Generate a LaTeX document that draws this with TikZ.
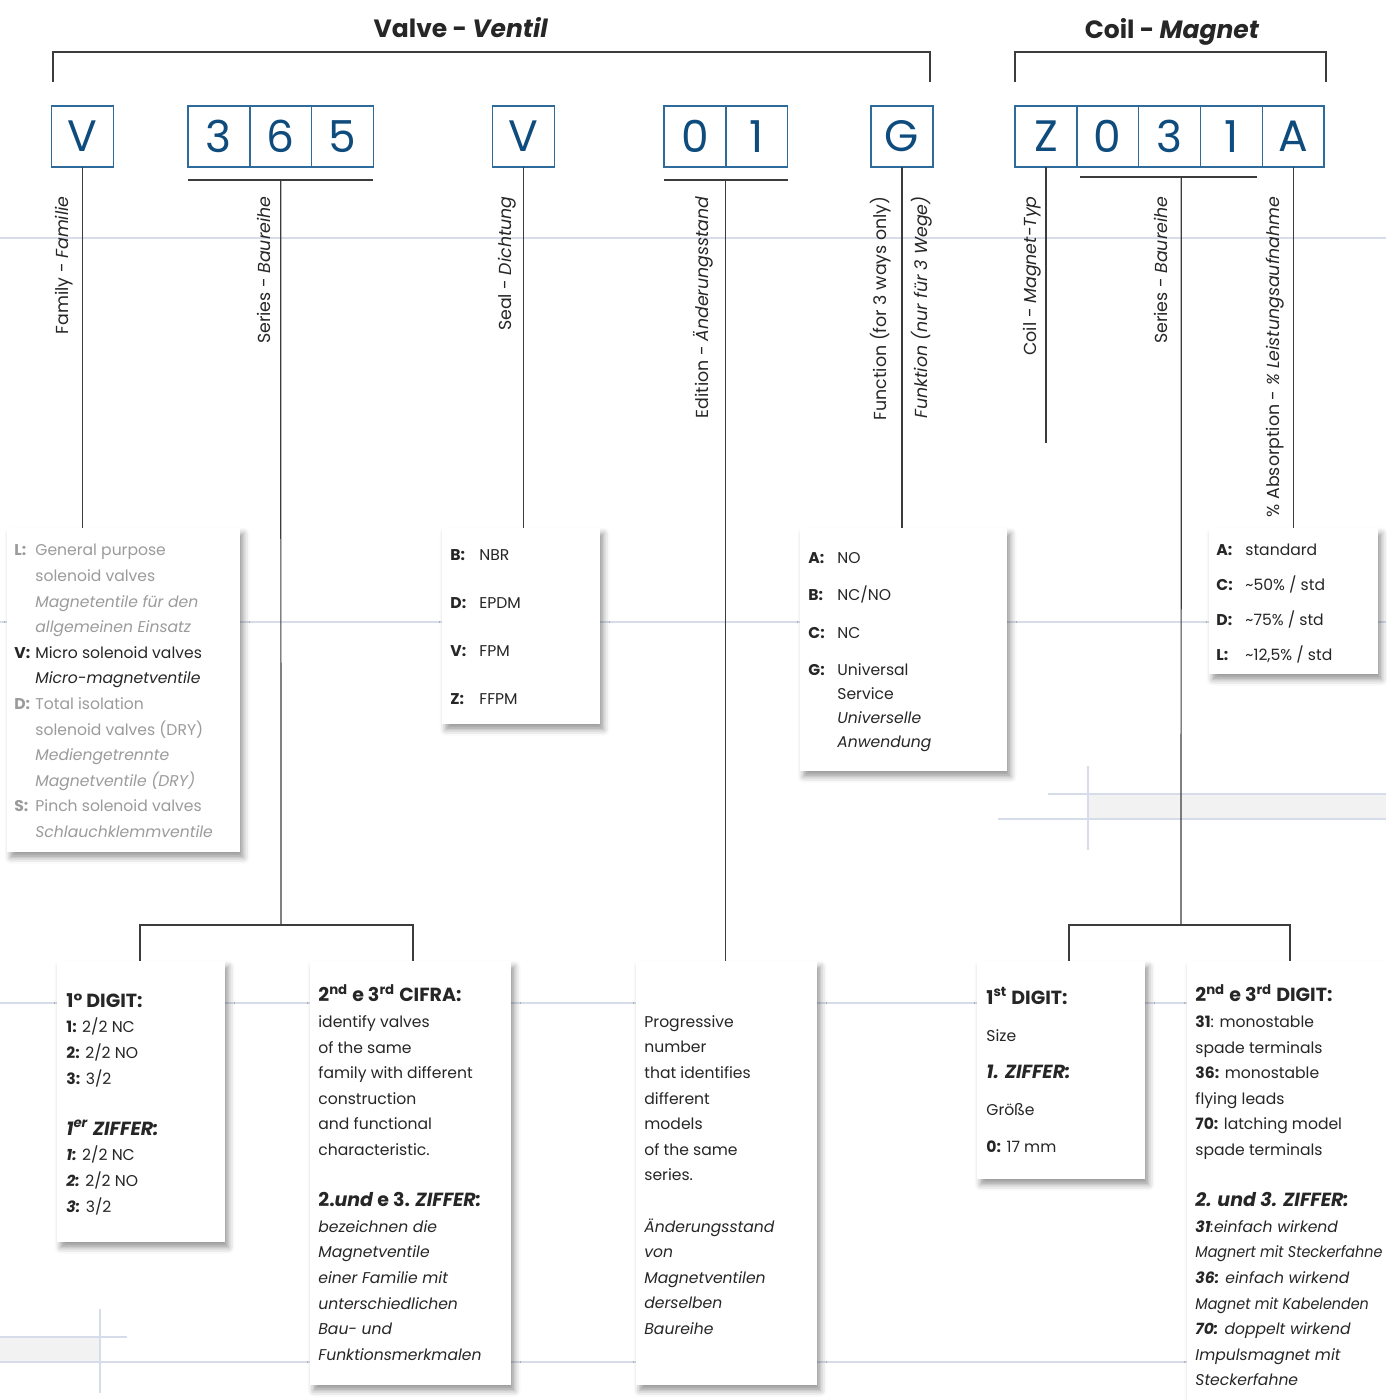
\documentclass[tikz,border=0pt]{standalone}
\usepackage{fontspec}
\setmainfont{Poppins}
\usetikzlibrary{positioning,fit,backgrounds,shadows.blur}

\definecolor{codeblue}{HTML}{0F4C7E}
\definecolor{cellline}{HTML}{2E6A9A}
\definecolor{ink}{HTML}{262626}
\definecolor{famgray}{HTML}{9B9B9B}
\definecolor{guide}{HTML}{D6DCEA}
\definecolor{strip}{HTML}{F2F2F2}

% bold key letter in a fixed-width box, and the matching indent
\newcommand{\lbl}[2][10.5pt]{\makebox[#1][l]{\textbf{#2}}}
\newcommand{\ind}[1][10.5pt]{\hspace*{#1}}
\newcommand{\hd}[1]{{\fontsize{9.5}{12.8}\selectfont\bfseries #1}}
\newcommand{\cond}[1]{\scalebox{0.92}[1]{#1}}

\tikzset{
  cell/.style={draw=cellline, line width=0.7pt, fill=white, outer sep=0pt,
    minimum width=30.9pt, minimum height=30.5pt, inner sep=0pt,
    text=codeblue, font=\fontsize{22}{22}\selectfont},
  shade box/.style={fill=white, inner sep=0pt,
    blur shadow={shadow xshift=1.8pt, shadow yshift=-2.8pt,
      shadow blur radius=3pt, shadow opacity=40}},
  panel/.style={shade box},
  conn/.style={draw=ink!90, line width=0.6pt},
  guideline/.style={draw=guide, line width=0.7pt},
  tag/.style={rotate=90, anchor=east, inner sep=0pt, text=ink,
    font=\fontsize{8.7}{8.7}\selectfont},
  body/.style={anchor=north west, inner sep=0pt, align=left, text=ink,
    font=\fontsize{7.8}{12.8}\selectfont},
  title/.style={text=ink, font=\fontsize{12.5}{12.5}\selectfont\bfseries}
}

\begin{document}
\begin{tikzpicture}[x=0.5pt,y=-0.5pt]
\useasboundingbox (0,0) rectangle (1386,1400);

% background guides
\fill[strip] (1088,794) rectangle (1386,819);
\fill[strip] (0,1337) rectangle (100,1362);
\foreach \yy in {238,622,1003,1362}
  \draw[guideline] (0,\yy) -- (1386,\yy);
\draw[guideline] (1048,794) -- (1386,794);
\draw[guideline] (998,819) -- (1386,819);
\draw[guideline] (1088,766) -- (1088,850);
\draw[guideline] (0,1337) -- (127,1337);
\draw[guideline] (100,1309) -- (100,1393);

% titles and brackets
\node[title] (tValve) at (461,28) {Valve - \textit{Ventil}};
\node[title] (tCoil) at (1172,32) {Coil - \textit{Magnet}};
\draw[conn] (53,82) |- (930,52) -- (930,82);
\draw[conn] (1015,82) |- (1326,52) -- (1326,82);

% code cells
\node[cell] (cV) at (82.5,136.5) {V};
\node[cell] (c3) at (218.9,136.5) {3};
\node[cell, right=0pt of c3] (c6) {6};
\node[cell, right=0pt of c6] (c5) {5};
\node[cell] (cS) at (523.5,136.5) {V};
\node[cell] (c0) at (694.9,136.5) {0};
\node[cell, right=0pt of c0] (c1) {1};
\node[cell] (cG) at (902,136.5) {G};
\node[cell] (cZ) at (1045.9,136.5) {Z};
\node[cell, right=0pt of cZ] (cZ0) {0};
\node[cell, right=0pt of cZ0] (cZ3) {3};
\node[cell, right=0pt of cZ3] (cZ1) {1};
\node[cell, right=0pt of cZ1] (cA) {A};

\begin{scope}[on background layer]
  \node[shade box, fit=(cV)] (gV) {};
  \node[shade box, fit=(c3)(c5)] (g365) {};
  \node[shade box, fit=(cS)] (gS) {};
  \node[shade box, fit=(c0)(c1)] (g01) {};
  \node[shade box, fit=(cG)] (gG) {};
  \node[shade box, fit=(cZ)(cA)] (gZ) {};
\end{scope}

% rotated captions
\node[tag] (lFam) at (64,196) {Family - \textit{Familie}};
\node[tag] (lSer) at (264,196) {Series - \textit{Baureihe}};
\node[tag] (lSeal) at (507,196) {Seal - \textit{Dichtung}};
\node[tag] (lEd) at (703,196) {Edition - \textit{Änderungsstand}};
\node[tag] (lFn) at (881,196) {Function (for 3 ways only)};
\node[tag] (lFk) at (922,196) {\textit{Funktion (nur für 3 Wege)}};
\node[tag] (lCoil) at (1032,196) {Coil - \textit{Magnet-Typ}};
\node[tag] (lCser) at (1161,196) {Series - \textit{Baureihe}};
\node[tag] (lAbs) at (1275,196) {\% Absorption - \textit{\% Leistungsaufnahme}};

% panels
\node[panel, fit={(7,528) (240,852)}] (bFam) {};
\node[panel, fit={(442,528) (600,724)}] (bSeal) {};
\node[panel, fit={(800,528) (1007,771)}] (bFunc) {};
\node[panel, fit={(1209,528) (1378,674)}] (bAbs) {};
\node[panel, fit={(57,961) (225,1242)}] (bDig) {};
\node[panel, fit={(310,961) (511,1385)}] (bCifra) {};
\node[panel, fit={(636,961) (817,1385)}] (bEd) {};
\node[panel, fit={(977,961) (1145,1179)}] (bSize) {};
\node[panel, fit={(1187,961) (1420,1420)}] (bCoil) {};

% connectors
\coordinate (sJoin) at (281,925);
\coordinate (sL) at (140,961);
\coordinate (sR) at (413,961);
\coordinate (cJoin) at (1181,925);
\coordinate (cL) at (1069,961);
\coordinate (cR) at (1290,961);
\draw[conn] (cV.south) -- (cV.south |- bFam.north);
\draw[conn] (cS.south) -- (cS.south |- bSeal.north);
\draw[conn] (cG.south) -- (cG.south |- bFunc.north);
\draw[conn] (cA.south) -- (cA.south |- bAbs.north);
\draw[conn] (cZ.south) -- (cZ.south |- 0,443);
\draw[conn] ([yshift=-6.5pt]c3.south west) -- ([yshift=-6.5pt]c5.south east);
\draw[conn] ([yshift=-6.5pt]c6.south) -- (sJoin);
\draw[conn] (sL) |- (sJoin) -| (sR);
\draw[conn] ([yshift=-6.5pt]c0.south west) -- ([yshift=-6.5pt]c1.south east);
\draw[conn] ([yshift=-6.5pt]c0.south east) -- (c0.south east |- bEd.north);
\draw[conn] ([xshift=1.5pt,yshift=-5pt]cZ0.south west) -- ([xshift=-2.4pt,yshift=-5pt]cZ1.south east);
\draw[conn] ([xshift=5.9pt,yshift=-5pt]cZ3.south) -- (cJoin);
\draw[conn] (cL) |- (cJoin) -| (cR);

% panel texts
\node[body, text=famgray] (tFam) at (14,544) {\lbl{L:}General purpose\\
  \ind solenoid valves\\ \ind\textit{Magnetentile für den}\\
  \ind\textit{allgemeinen Einsatz}\\
  \textcolor{ink}{\lbl{V:}Micro solenoid valves}\\
  \textcolor{ink}{\ind\textit{Micro-magnetventile}}\\
  \lbl{D:}Total isolation\\ \ind solenoid valves (DRY)\\
  \ind\textit{Mediengetrennte}\\ \ind\textit{Magnetventile (DRY)}\\
  \lbl{S:}Pinch solenoid valves\\ \ind\textit{Schlauchklemmventile}};

\node[body, font=\fontsize{7.8}{24}\selectfont] (tSeal) at (450,549)
  {\lbl[14.5pt]{B:}NBR\\ \lbl[14.5pt]{D:}EPDM\\ \lbl[14.5pt]{V:}FPM\\ \lbl[14.5pt]{Z:}FFPM};

\node[body, font=\fontsize{7.8}{12}\selectfont] (tFunc) at (808,552)
  {\lbl[14.5pt]{A:}NO\\[6.75pt] \lbl[14.5pt]{B:}NC/NO\\[6.75pt]
   \lbl[14.5pt]{C:}NC\\[6.75pt] \lbl[14.5pt]{G:}Universal\\
   \ind[14.5pt]Service\\ \ind[14.5pt]\textit{Universelle}\\ \ind[14.5pt]\textit{Anwendung}};

\node[body, font=\fontsize{7.8}{17.35}\selectfont] (tAbs) at (1216,544)
  {\lbl[14.5pt]{A:}standard\\ \lbl[14.5pt]{C:}\textasciitilde 50\% / std\\
   \lbl[14.5pt]{D:}\textasciitilde 75\% / std\\ \lbl[14.5pt]{L:}\textasciitilde 12,5\% / std};

\node[body] (tDig) at (66,993) {\hd{1° DIGIT:}\\
  \textbf{1:} 2/2 NC\\ \textbf{2:} 2/2 NO\\ \textbf{3:} 3/2\\[12.8pt]
  \hd{\textit{1\textsuperscript{er} ZIFFER:}}\\
  \textbf{\textit{1:}} 2/2 NC\\ \textbf{\textit{2:}} 2/2 NO\\ \textbf{\textit{3:}} 3/2};

\node[body] (tCifra) at (318,984) {\hd{2\textsuperscript{nd} e 3\textsuperscript{rd} CIFRA:}\\
  identify valves\\ of the same\\ family with different\\ construction\\
  and functional\\ characteristic.\\[12.8pt]
  \hd{2.\textit{und} e 3. \textit{ZIFFER:}}\\
  \textit{bezeichnen die}\\ \textit{Magnetventile}\\ \textit{einer Familie mit}\\
  \textit{unterschiedlichen}\\ \textit{Bau- und}\\ \textit{Funktionsmerkmalen}};

\node[body] (tEd) at (644,1015) {Progressive\\ number\\ that identifies\\
  different\\ models\\ of the same\\ series.\\[12.8pt]
  \textit{Änderungsstand}\\ \textit{von}\\ \textit{Magnetventilen}\\
  \textit{derselben}\\ \textit{Baureihe}};

\node[body, font=\fontsize{7.8}{18.5}\selectfont] (tSize) at (986,987)
  {\hd{1\textsuperscript{st} DIGIT:}\\ Size\\ \hd{\textit{1. ZIFFER:}}\\
   Größe\\ \textbf{0:} 17 mm};

\node[body] (tCoil) at (1195,984) {\hd{2\textsuperscript{nd} e 3\textsuperscript{rd} DIGIT:}\\
  \textbf{31}: monostable\\ spade terminals\\ \textbf{36:} monostable\\
  flying leads\\ \textbf{70:} latching model\\ spade terminals\\[12.8pt]
  \hd{\textit{2. und 3. ZIFFER:}}\\
  \textit{\textbf{31}:einfach wirkend}\\ \cond{\textit{Magnert mit Steckerfahne}}\\
  \textit{\textbf{36:} einfach wirkend}\\ \cond{\textit{Magnet mit Kabelenden}}\\
  \textit{\textbf{70:} doppelt wirkend}\\ \textit{Impulsmagnet mit}\\
  \textit{Steckerfahne}};
\end{tikzpicture}
\end{document}
